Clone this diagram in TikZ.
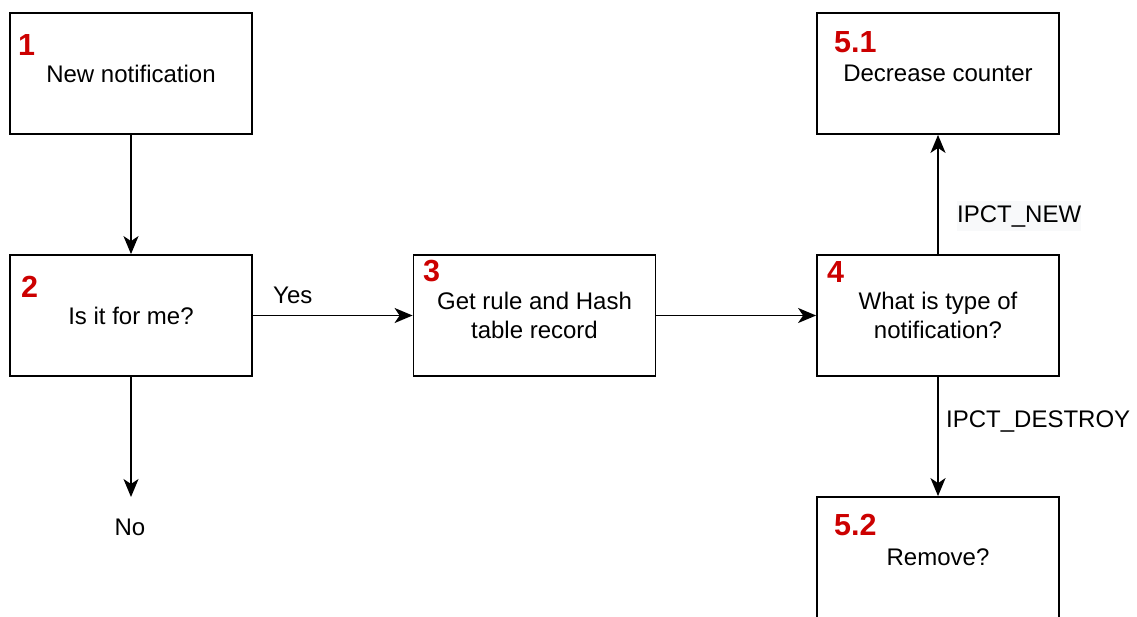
\documentclass[tikz,border=0pt]{standalone}
\usepackage{fontspec}
\setmainfont{Liberation Sans}
\usetikzlibrary{arrows.meta,calc}
\definecolor{numred}{HTML}{CC0000}
\definecolor{labelbg}{HTML}{F8F9FA}
\tikzset{
  box/.style={draw=black, line width=1.8pt, fill=white, minimum width=242pt,
    minimum height=121pt, inner sep=0pt, align=center,
    font=\fontsize{24}{29.5}\selectfont},
  num/.style={anchor=base west, inner sep=0pt, text=numred,
    font=\fontsize{30.5}{33}\selectfont\bfseries},
  lbl/.style={anchor=base west, inner sep=0pt, font=\fontsize{24}{29}\selectfont},
  arr/.style={line width=1.8pt, -{Stealth[length=18pt, width=15pt, inset=5pt]}}
}
\begin{document}
\begin{tikzpicture}[x=1pt, y=-1pt]
  \useasboundingbox (0,0) rectangle (1137,616);
  \clip (0,0) rectangle (1137,616);

  % process boxes
  \node[box] (b1)  at (131,73.5)   {New notification};
  \node[box] (b2)  at (131,315.5)  {Is it for me?};
  \node[box] (b3)  at (534.5,315.5) {Get rule and Hash\\table record};
  \node[box] (b4)  at (938,315.5)  {What is type of\\notification?};
  \node[box] (b51) at (938,73.5)   {Decrease counter};
  \node[box] (b52) at (938,557.5)  {Remove?};

  % step numbers
  \node[num] (n1)  at (18,55)   {1};
  \node[num] (n2)  at (21,297)  {2};
  \node[num] (n3)  at (423,281) {3};
  \node[num] (n4)  at (827,282) {4};
  \node[num] (n51) at (834,52)  {5.1};
  \node[num] (n52) at (834,535) {5.2};

  % end of the "No" branch
  \coordinate (noend) at (131,497);
  \node[lbl, anchor=base] (no) at (130,535) {No};

  % connectors
  \draw[arr] (b1) -- (b2);
  \draw[arr] (b2) -- (noend);
  \draw[arr] (b2) -- (b3);
  \draw[arr] (b3) -- (b4);
  \draw[arr] (b4) -- (b51);
  \draw[arr] (b4) -- (b52);

  % connector labels
  \node[lbl] (yes) at (273,303) {Yes};
  \node[lbl, fill=labelbg, inner ysep=4pt] (new) at (957,222) {IPCT\_NEW};
  \node[lbl] (destroy) at (946,427) {IPCT\_DESTROY};
\end{tikzpicture}
\end{document}
